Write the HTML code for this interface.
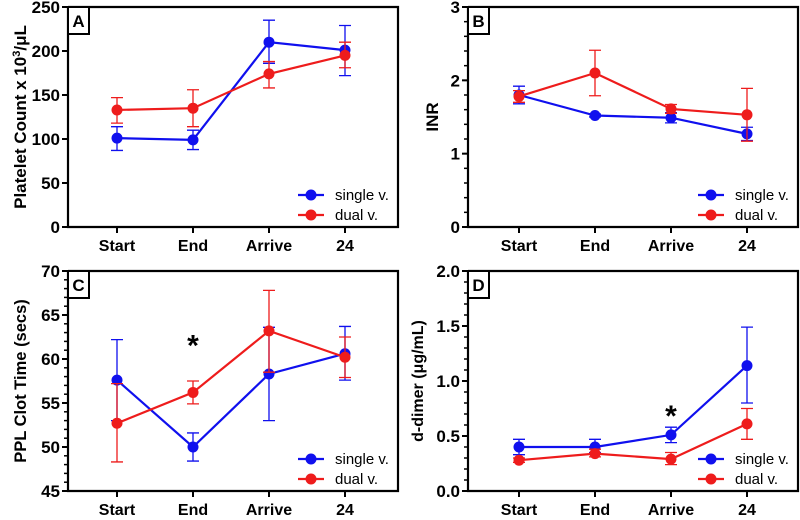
<!DOCTYPE html>
<html><head><meta charset="utf-8"><style>
body{margin:0;background:#fff;}
svg{display:block;font-family:"Liberation Sans",Arial,sans-serif;}
</style></head><body>
<svg id="chart" width="800" height="520" viewBox="0 0 800 520"></svg>
<script>
const categories = ["Start","End","Arrive","24"];
const aSingle = [101, 99, 210, 201];
const aSingleLo = [87, 88, 186, 172];
const aSingleHi = [114, 110, 235, 229];
const aDual = [133, 135, 174, 195];
const aDualLo = [118, 114, 158, 181];
const aDualHi = [147, 156, 188, 210];
const bSingle = [1.80, 1.52, 1.49, 1.27];
const bSingleLo = [1.68, 1.50, 1.42, 1.18];
const bSingleHi = [1.92, 1.54, 1.56, 1.36];
const bDual = [1.78, 2.10, 1.61, 1.53];
const bDualLo = [1.70, 1.79, 1.55, 1.17];
const bDualHi = [1.86, 2.41, 1.67, 1.89];
const cSingle = [57.6, 50.0, 58.3, 60.6];
const cSingleLo = [53.0, 48.4, 53.0, 57.6];
const cSingleHi = [62.2, 51.6, 63.6, 63.7];
const cDual = [52.7, 56.2, 63.2, 60.2];
const cDualLo = [48.3, 54.9, 58.5, 57.9];
const cDualHi = [57.2, 57.5, 67.8, 62.5];
const dSingle = [0.40, 0.40, 0.51, 1.14];
const dSingleLo = [0.33, 0.35, 0.44, 0.80];
const dSingleHi = [0.47, 0.47, 0.58, 1.49];
const dDual = [0.28, 0.34, 0.29, 0.61];
const dDualLo = [0.26, 0.31, 0.24, 0.47];
const dDualHi = [0.30, 0.38, 0.35, 0.75];
const aTicks = ["0","50","100","150","200","250"];
const bTicks = ["0","1","2","3"];
const cTicks = ["45","50","55","60","65","70"];
const dTicks = ["0.0","0.5","1.0","1.5","2.0"];

const NS="http://www.w3.org/2000/svg";
const svg=document.getElementById('chart');
function mk(tag,attrs,parent,text){const e=document.createElementNS(NS,tag);for(const k in attrs)e.setAttribute(k,attrs[k]);if(text!==undefined)e.textContent=text;(parent||svg).appendChild(e);return e;}

function panel(o){
  const g=mk('g',{});
  
  
  const x0=o.x0,x1=o.x1,top=o.top,bot=o.bot;
  const ymin=parseFloat(o.ticks[0]),ymax=parseFloat(o.ticks[o.ticks.length-1]);
  const ys=v=>bot-(v-ymin)/(ymax-ymin)*(bot-top);
  const xs=i=>o.cx[0]+i*(o.cx[1]-o.cx[0]);
  const ax=mk('path',{d:`M${x0},${top} V${bot} H${x1} V${top} H${x0}`,fill:'none',stroke:'#000','stroke-width':2.2},g);
  
  
  o.ticks.forEach(t=>{const v=parseFloat(t),y=ys(v);
    mk('line',{x1:x0-6,x2:x0,y1:y,y2:y,stroke:'#000','stroke-width':2},g);
    const tl=mk('text',{x:x0-8,y:y+6,'text-anchor':'end','font-size':17,'font-weight':'bold'},g,t);
    
    
  });
  if(o.minor){for(let v=ymin+o.minor;v<ymax-1e-9;v+=o.minor){const y=ys(v);mk('line',{x1:x0-4,x2:x0,y1:y,y2:y,stroke:'#000','stroke-width':1.5},g);}}
  categories.forEach((c,i)=>{const x=xs(i);
    mk('line',{x1:x,x2:x,y1:bot,y2:bot+6,stroke:'#000','stroke-width':2},g);
    const tl=mk('text',{x:x,y:bot+24,'text-anchor':'middle','font-size':16,'font-weight':'bold'},g,c);
    
    
  });
  const yt=mk('text',{transform:`translate(${o.tx},${(top+bot)/2}) rotate(-90)`,'text-anchor':'middle','font-size':o.tfs,'font-weight':'bold'},g);
  
  
  yt.innerHTML=o.title;
  mk('rect',{x:x0,y:top,width:21,height:27,fill:'#fff',stroke:'#000','stroke-width':2},g);
  const lb=mk('text',{x:x0+10.5,y:top+20,'text-anchor':'middle','font-size':17,'font-weight':'bold'},g,o.letter);
  
  
  const series=[[o.s,o.sLo,o.sHi,'#1010ee','single'],[o.d,o.dLo,o.dHi,'#ee1c1c','dual']];
  series.forEach(([vals,lo,hi,col,nm])=>{
    const sg=mk('g',{},g);
    
    
    vals.forEach((v,i)=>{const x=xs(i);
      const eb=mk('path',{d:`M${x},${ys(lo[i])} V${ys(hi[i])} M${x-6},${ys(lo[i])} H${x+6} M${x-6},${ys(hi[i])} H${x+6}`,stroke:col,'stroke-width':1.3,fill:'none'},sg);
      
      
    });
    const pl=mk('polyline',{points:vals.map((v,i)=>xs(i)+','+ys(v)).join(' '),fill:'none',stroke:col,'stroke-width':2.2},sg);
    
    
    vals.forEach((v,i)=>{const c=mk('circle',{cx:xs(i),cy:ys(v),r:5.5,fill:col},sg);
      
      });
  });
  if(o.star){const st=mk('text',{x:xs(o.star[0]),y:ys(o.star[1])+14,'text-anchor':'middle','font-size':30,'font-weight':'bold'},g,'*');
    
    }
  const lg=mk('g',{},g);
  
  
  [['#1010ee','single v.',bot-32],['#ee1c1c','dual v.',bot-12]].forEach(([col,t,y])=>{
    const lx=x0+230;
    mk('line',{x1:lx,x2:lx+26,y1:y,y2:y,stroke:col,'stroke-width':2.2},lg);
    mk('circle',{cx:lx+13,cy:y,r:5.5,fill:col},lg);
    const e=mk('text',{x:lx+37,y:y+5,'font-size':15},lg,t);
    
    
  });
}
panel({letter:'A',x0:68,x1:398,top:7,bot:227,cx:[117,193],ticks:aTicks,tx:26,tfs:17,title:'Platelet Count x 10<tspan font-size="11" dy="-6">3</tspan><tspan dy="6">/μL</tspan>',s:aSingle,sLo:aSingleLo,sHi:aSingleHi,d:aDual,dLo:aDualLo,dHi:aDualHi});
panel({letter:'B',x0:468,x1:798,top:7,bot:227,cx:[519,595],ticks:bTicks,minor:0.2,tx:438,tfs:17,title:'INR',s:bSingle,sLo:bSingleLo,sHi:bSingleHi,d:bDual,dLo:bDualLo,dHi:bDualHi});
panel({letter:'C',x0:68,x1:398,top:271,bot:491,cx:[117,193],ticks:cTicks,minor:1,tx:26,tfs:16.5,title:'PPL Clot Time (secs)',s:cSingle,sLo:cSingleLo,sHi:cSingleHi,d:cDual,dLo:cDualLo,dHi:cDualHi,star:[1,62]});
panel({letter:'D',x0:468,x1:798,top:271,bot:491,cx:[519,595],ticks:dTicks,minor:0.1,tx:423,tfs:16,title:'d-dimer (μg/mL)',s:dSingle,sLo:dSingleLo,sHi:dSingleHi,d:dDual,dLo:dDualLo,dHi:dDualHi,star:[2,0.72]});
</script>
</body></html>
